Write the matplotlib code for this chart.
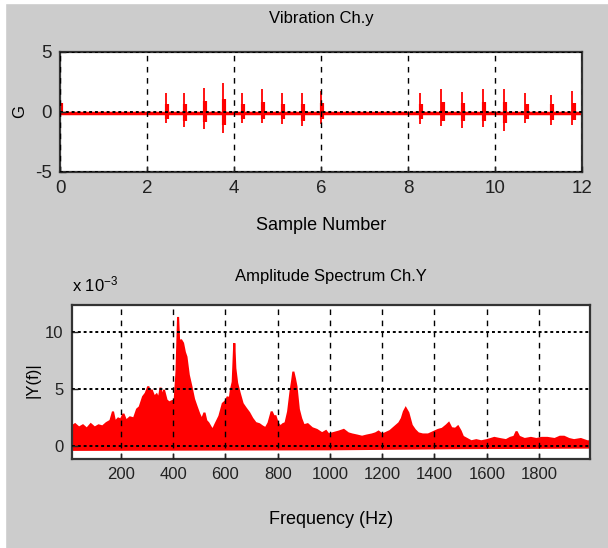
import numpy as np
import matplotlib
matplotlib.use('Agg')
from matplotlib import pyplot as plt
from matplotlib.patches import Rectangle

# Vibration channel y: burst positions (sample number) and their peaks (G)
burst_x = [0.0, 2.43, 2.85, 3.30, 3.75, 4.19, 4.64, 5.10, 5.56, 5.99,
           8.28, 8.77, 9.23, 9.72, 10.21, 10.70, 11.28, 11.78]
burst_up = [1.75, 1.57, 1.57, 2.0, 2.4, 1.57, 1.9, 1.57, 1.57, 1.75,
            1.57, 1.9, 1.7, 1.9, 1.9, 1.57, 1.43, 1.75]
burst_down = [-0.1, -0.95, -1.27, -1.4, -1.75, -0.95, -0.95, -1.0, -1.2, -1.0,
              -1.0, -1.2, -1.3, -1.27, -1.55, -0.95, -1.05, -1.05]

# Amplitude spectrum ch. Y: upper envelope (x 1e-3)
spec_freq = [12, 25, 40, 55, 70, 85, 100, 115, 130, 145, 160, 170, 178, 190, 200,
             210, 220, 235, 250, 262, 272, 285, 295, 305, 312, 318, 328, 337, 345,
             352, 358, 365, 375, 385, 394, 406, 413, 419, 424, 430, 438, 445, 451,
             460, 470, 480, 489, 500, 510, 520, 527, 535, 545, 552, 562, 577, 590,
             600, 609, 615, 621, 628, 634, 638, 645, 655, 666, 678, 691, 703, 716,
             730, 742, 754, 765, 777, 785, 792, 800, 811, 820, 830, 840, 850, 856,
             860, 866, 872, 881, 890, 900, 915, 932, 950, 970, 985, 995, 1010, 1034,
             1053, 1070, 1085, 1105, 1123, 1140, 1161, 1175, 1186, 1200, 1211, 1230,
             1250, 1265, 1275, 1283, 1290, 1300, 1307, 1313, 1325, 1338, 1355, 1376,
             1395, 1414, 1430, 1446, 1455, 1465, 1480, 1490, 1500, 1509, 1525, 1541,
             1560, 1579, 1600, 1615, 1629, 1650, 1674, 1690, 1705, 1714, 1724, 1745,
             1769, 1790, 1810, 1832, 1860, 1880, 1896, 1915, 1934, 1960, 1985, 1995]
spec_amp = [1.7, 1.9, 1.6, 1.8, 1.5, 1.9, 1.6, 1.8, 1.7, 2.0, 2.2, 3.0, 2.1, 2.4, 2.3,
            2.8, 2.2, 2.5, 2.4, 3.2, 3.4, 4.3, 4.6, 5.2, 4.7, 4.9, 4.3, 4.5, 4.1,
            5.1, 4.2, 4.9, 4.0, 3.8, 3.9, 4.0, 6.5, 11.3, 8.6, 9.3, 9.0, 8.2, 7.8,
            6.2, 5.2, 4.1, 3.5, 2.8, 2.3, 2.9, 2.2, 2.0, 1.6, 1.4, 1.9, 2.6, 3.7,
            3.9, 4.3, 3.8, 4.9, 5.6, 9.0, 6.8, 5.5, 4.6, 3.7, 3.3, 2.9, 2.4, 2.0,
            1.9, 1.7, 1.55, 2.0, 3.0, 2.6, 2.6, 2.0, 1.7, 1.9, 2.0, 3.0, 4.9, 5.8,
            6.5, 5.9, 5.2, 3.2, 2.4, 1.8, 1.9, 1.55, 1.4, 1.1, 1.3, 1.0, 1.1, 1.25,
            1.4, 1.1, 1.0, 0.9, 0.8, 0.9, 1.0, 1.1, 1.25, 1.0, 1.1, 1.3,
            1.7, 2.0, 2.4, 3.0, 3.3, 2.9, 2.3, 1.8, 1.4, 1.1, 1.0, 1.0,
            1.2, 1.4, 1.5, 1.8, 2.0, 1.55, 1.5, 1.7, 1.3, 0.8, 0.6, 0.4,
            0.5, 0.4, 0.5, 0.6, 0.7, 0.6, 0.5, 0.7, 0.8, 1.25, 0.8, 0.6,
            0.7, 0.6, 0.7, 0.7, 0.6, 0.8, 0.8, 0.6, 0.5, 0.6, 0.4, 0.4]
# lower edge of the spectrum band (x 1e-3)
floor_freq = [12, 1000, 1500, 1995]
floor_amp = [-0.35, -0.3, -0.2, -0.15]

plt.rcParams['font.family'] = ['Liberation Sans', 'DejaVu Sans']
plt.rcParams['mathtext.default'] = 'regular'
plt.rcParams['axes.unicode_minus'] = False

W, H = 608, 548
fig = plt.figure(figsize=(W / 100, H / 100), dpi=100)
fig.patch.set_facecolor('#cccccc')
fig.patches.append(Rectangle((0, 0), 5 / W, 1, transform=fig.transFigure,
                             color='white', zorder=-1))
fig.patches.append(Rectangle((0, 1 - 3 / H), 1, 3 / H, transform=fig.transFigure,
                             color='white', zorder=-1))


def style(ax, size):
    ax.set_axisbelow(False)
    ax.xaxis.grid(True, linestyle=(0, (4, 4)), color='black', lw=1.0)
    ax.yaxis.grid(True, linestyle=(0, (1.5, 1.5)), color='black', lw=1.4)
    ax.tick_params(direction='in', length=4, width=1, labelsize=size, pad=6,
                   top=False, right=False, colors='#222222')
    for s in ax.spines.values():
        s.set_linewidth(1.6)
        s.set_color('#333333')


# top: vibration
ax1 = fig.add_axes([60 / W, 1 - 172 / H, 522 / W, 120 / H])
ax1.axhline(-0.05, color='red', lw=2.5, zorder=1)
ax1.vlines(burst_x, burst_down, burst_up, color='red', lw=1.3, zorder=1)
ax1.vlines(np.array(burst_x) + 0.025, np.array(burst_down) * 0.6,
           np.array(burst_up) * 0.45, color='red', lw=3, zorder=1)
ax1.set_xlim(0, 12)
ax1.set_ylim(-5, 5)
ax1.set_xticks(range(0, 13, 2))
ax1.set_yticks([-5, 0, 5])
style(ax1, 13.5)
fig.text(321 / W, 1 - 18 / H, 'Vibration Ch.y', ha='center', va='center', fontsize=12)
fig.text(321 / W, 1 - 226 / H, 'Sample Number', ha='center', va='center', fontsize=13)
fig.text(20 / W, 1 - 112 / H, 'G', ha='center', va='center', rotation=90, fontsize=12)

# bottom: amplitude spectrum
ax2 = fig.add_axes([71.7 / W, 1 - 459 / H, 518.3 / W, 154 / H])
ax2.fill(np.r_[spec_freq, floor_freq[::-1]], np.r_[spec_amp, floor_amp[::-1]],
         color='red', lw=1.5, zorder=1)
ax2.set_xlim(12, 1995)
ax2.set_ylim(-1.15, 12.35)
ax2.set_xticks(range(200, 2000, 200))
ax2.set_yticks([0, 5, 10])
style(ax2, 12)
fig.text(331 / W, 1 - 276 / H, 'Amplitude Spectrum Ch.Y', ha='center', va='center',
         fontsize=12)
fig.text(331 / W, 1 - 520 / H, 'Frequency (Hz)', ha='center', va='center', fontsize=13)
fig.text(33 / W, 1 - 380 / H, '|Y(f)|', ha='center', va='center', rotation=90,
         fontsize=12)
fig.text(72 / W, 1 - 284 / H, r'x 10$^{-3}$', ha='left', va='center', fontsize=12)

fig.savefig('out.png', dpi=100, facecolor=fig.get_facecolor())
